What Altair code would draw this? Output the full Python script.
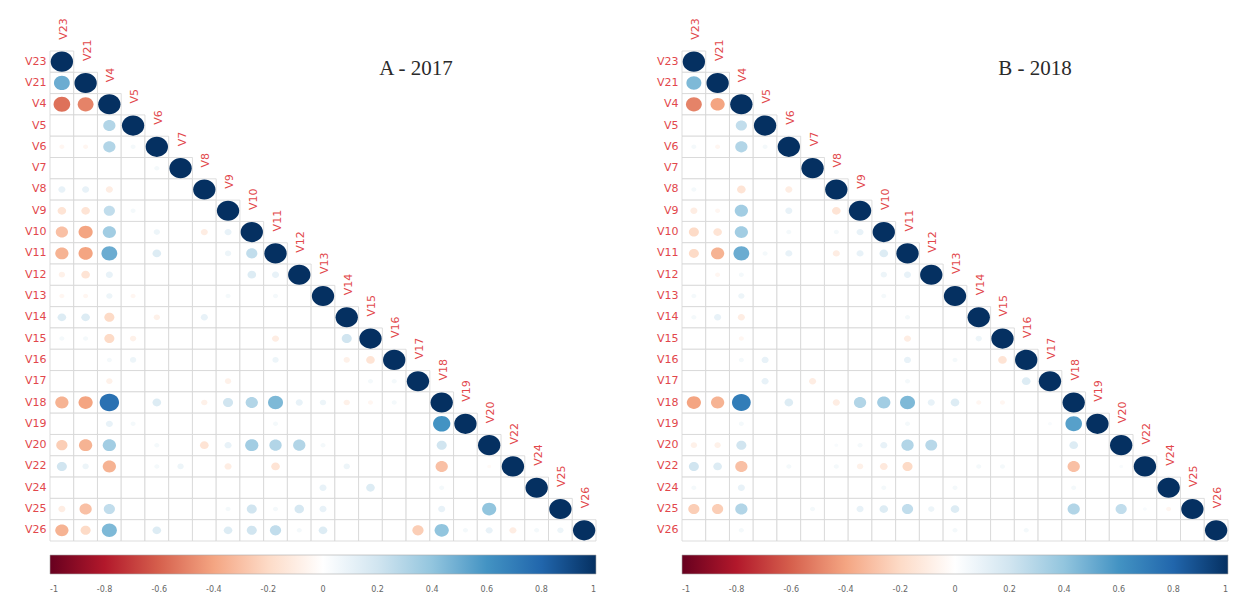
import altair as alt
import pandas as pd

VARS = ["V23", "V21", "V4", "V5", "V6", "V7", "V8", "V9", "V10", "V11", "V12", "V13",
        "V14", "V15", "V16", "V17", "V18", "V19", "V20", "V22", "V24", "V25", "V26"]

# lower-triangular correlations (row i holds columns 0..i-1), diagonal = 1
CORR_2017 = [
    [],
    [0.5],
    [-0.55, -0.5],
    [0, 0, 0.3],
    [-0.05, -0.05, 0.3, 0.05],
    [0, 0, 0, 0, 0.05],
    [0.1, 0.1, -0.1, 0, 0, 0],
    [-0.15, -0.15, 0.25, 0.05, 0, 0, 0],
    [-0.3, -0.4, 0.35, 0, 0.08, 0, -0.1, 0.1],
    [-0.35, -0.4, 0.5, 0, 0.15, 0, 0, 0.08, 0.25],
    [-0.08, -0.15, 0.1, 0, 0, 0, 0, 0, 0.15, 0.1],
    [-0.05, -0.05, 0.08, -0.05, 0, 0, 0, 0.05, 0, 0.05, 0],
    [0.15, 0.15, -0.2, 0, -0.08, 0, 0.1, 0, 0, 0, 0, 0],
    [0.05, 0.05, -0.2, -0.08, 0, 0, 0, 0, 0, -0.1, 0, 0, 0.2],
    [0, 0, 0.05, 0.08, 0, 0, 0, 0, 0, 0.08, 0, 0, -0.08, -0.15],
    [0, 0, -0.08, 0, 0, 0, 0, -0.08, 0, 0, 0, 0, 0, 0.05, 0.05],
    [-0.35, -0.4, 0.75, 0, 0.15, 0, -0.08, 0.2, 0.3, 0.45, 0.1, 0.08, -0.08, -0.05, 0.05, 0],
    [0, 0, 0.1, 0.05, 0, 0, 0, 0, 0, 0.05, 0, 0, 0, 0, 0, 0, 0.6],
    [-0.25, -0.35, 0.35, 0, 0.05, 0, -0.15, 0.1, 0.35, 0.3, 0.3, 0.05, 0, 0, 0, 0, 0.2, 0],
    [0.2, 0.08, -0.35, 0, 0.05, 0.08, 0, -0.1, 0, -0.15, 0, 0, 0.08, 0, 0, 0, -0.3, 0, -0.03],
    [0, 0, 0, 0, 0, 0, 0, 0, 0, 0, 0, 0.1, 0, 0.15, 0, 0, 0.05, 0, 0, 0],
    [-0.1, -0.3, 0.25, 0, 0, 0, 0, 0.05, 0.2, 0.05, 0.18, 0.1, 0, 0, 0, 0, 0.1, 0, 0.4, 0, 0],
    [-0.35, -0.2, 0.45, 0, 0.15, 0, 0, 0.15, 0.2, 0.25, 0.05, 0.15, 0, 0, 0, -0.25, 0.4, 0.05, 0.1, -0.1, 0.05, 0.08],
]

CORR_2018 = [
    [],
    [0.45],
    [-0.5, -0.4],
    [0, 0, 0.25],
    [0.05, -0.05, 0.3, 0.05],
    [0, 0, 0, 0, 0],
    [0.05, 0, -0.15, 0, -0.1, 0],
    [-0.1, -0.05, 0.35, 0, 0.1, 0, -0.15],
    [-0.2, -0.15, 0.35, 0, 0.05, 0, 0.05, 0.1],
    [-0.2, -0.35, 0.5, 0.05, 0.1, 0, -0.1, 0.1, 0.15],
    [0, -0.05, 0.05, 0, 0, 0, 0, 0, 0.08, 0.1],
    [0.05, 0, 0.08, 0, 0, 0, 0, 0, 0.05, 0, 0],
    [0.05, 0.1, -0.1, 0, 0, 0, 0, 0, 0, 0.05, 0, 0],
    [0, 0, -0.05, 0, 0, 0, 0, 0, 0, -0.1, 0, 0, 0.08],
    [0, 0, 0.05, 0.1, 0, 0, 0, 0, 0, 0.1, 0, 0.05, 0, -0.15],
    [0, 0, 0, 0.1, 0, -0.1, 0, 0, 0, 0.05, 0, 0, 0, 0, 0.15],
    [-0.4, -0.35, 0.7, 0, 0.15, 0, -0.1, 0.3, 0.35, 0.45, 0.1, 0.15, -0.05, -0.05, 0, 0],
    [0, 0, 0.05, 0, 0, 0, 0, 0, 0, 0.05, 0, 0, 0, 0, 0, 0.03, 0.55],
    [-0.08, -0.08, 0.2, 0, 0, 0, 0.03, 0.05, 0.1, 0.3, 0.28, 0, 0, 0, 0, 0, 0.15, 0],
    [0.2, 0.15, -0.3, 0, 0.05, 0, 0.05, -0.08, -0.12, -0.2, 0, 0, 0.05, 0.05, 0, 0, -0.3, 0, 0.03],
    [0.05, 0, 0.1, 0, 0, 0, 0, 0, 0.05, 0, 0, 0.05, 0, 0, 0, 0, 0.05, 0, 0, 0],
    [-0.25, -0.25, 0.3, 0, 0, 0.05, 0, 0.1, 0.15, 0.25, 0.08, 0.15, 0, 0, 0, 0, 0.3, 0, 0.25, 0.03, -0.05],
    [0, 0, 0.05, 0, 0, 0, 0, 0, 0, 0, 0, 0.05, 0, 0, 0.05, 0, 0, 0, 0, 0, 0, 0],
]

TICKS = [-1, -0.8, -0.6, -0.4, -0.2, 0, 0.2, 0.4, 0.6, 0.8, 1]
RDBU = ["#67001F", "#B2182B", "#D6604D", "#F4A582", "#FDDBC7", "#FFFFFF",
        "#D1E5F0", "#92C5DE", "#4393C3", "#2166AC", "#053061"]

W = 546
H = 490
LABEL_COLOR = "#e2474b"
ELLIPSE = "M -1 0 A 1 0.9 0 1 0 1 0 A 1 0.9 0 1 0 -1 0 Z"


def build_df(rows):
    recs = []
    for i, name in enumerate(VARS):
        for j in range(i + 1):
            r = 1.0 if i == j else rows[i][j]
            recs.append({"row": name, "col": VARS[j], "r": r, "absr": abs(r),
                         "diag": i == j})
    return pd.DataFrame(recs)


def panel(rows, title, title_x):
    df = build_df(rows)
    base = alt.Chart(df)
    xenc = alt.X("col:N", sort=VARS, axis=None,
                 scale=alt.Scale(paddingInner=0, paddingOuter=0))
    yenc = alt.Y("row:N", sort=VARS, title=None,
                 scale=alt.Scale(paddingInner=0, paddingOuter=0),
                 axis=alt.Axis(ticks=False, domain=False, grid=False, labelPadding=4,
                               labelFontSize=11, labelFont="DejaVu Sans",
                               labelColor=LABEL_COLOR))
    cells = base.mark_rect(fill="white", stroke="#d4d4d4", strokeWidth=0.8).encode(
        x=xenc, y=yenc)
    circles = base.transform_filter("datum.r != 0").mark_point(
        filled=True, shape=ELLIPSE, opacity=1, strokeWidth=0).encode(
        x=xenc, y=yenc,
        size=alt.Size("absr:Q", scale=alt.Scale(domain=[0, 1], range=[0, 500]), legend=None),
        color=alt.Color("r:Q", scale=alt.Scale(domain=TICKS, range=RDBU, interpolate="rgb"),
                        legend=alt.Legend(orient="none", legendX=0, legendY=H + 14,
                                          direction="horizontal", title=None,
                                          gradientLength=W, gradientThickness=19,
                                          gradientStrokeColor="#aaaaaa",
                                          gradientStrokeWidth=0.6,
                                          values=TICKS,
                                          labelExpr="'' + round(datum.value*10)/10",
                                          labelFontSize=8, labelColor="#666666",
                                          labelFont="DejaVu Sans",
                                          labelOffset=12, labelAlign="center")),
    )
    col_labels = base.transform_filter("datum.diag").mark_text(
        angle=270, align="left", baseline="middle", dx=22, dy=2,
        font="DejaVu Sans", fontSize=11, color=LABEL_COLOR).encode(
        x=xenc, y=yenc, text="col:N")
    ttl = alt.Chart(pd.DataFrame({"t": [title]})).mark_text(
        font="Liberation Serif", fontSize=21, color="#2a2a2a",
        align="center", baseline="middle").encode(
        x=alt.value(title_x), y=alt.value(18), text="t:N")
    return alt.layer(cells, circles, col_labels, ttl).properties(width=W, height=H)


chart = alt.hconcat(
    panel(CORR_2017, "A - 2017", 366),
    panel(CORR_2018, "B - 2018", 353),
    spacing=59,
).resolve_scale(color="independent", size="independent").resolve_legend(
    color="independent"
).properties(
    padding={"left": 16, "top": 10, "right": 0, "bottom": 0}
).configure_view(stroke=None)

chart.save("out.html", embed_options={"renderer": "svg", "actions": False})
